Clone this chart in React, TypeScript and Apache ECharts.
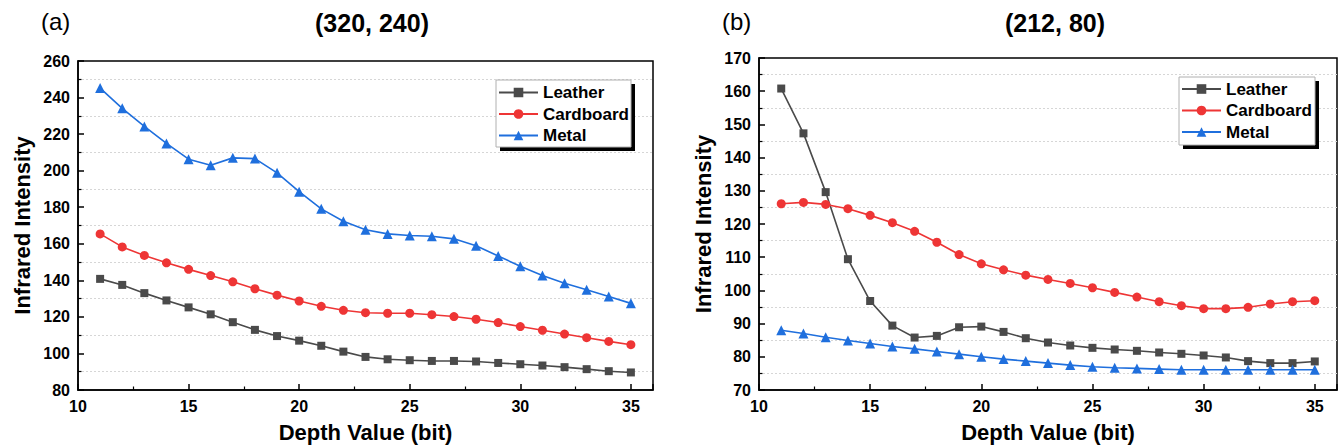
import React, { useEffect, useRef } from "react";
import * as echarts from "echarts";

const depth = [11, 12, 13, 14, 15, 16, 17, 18, 19, 20, 21, 22, 23, 24, 25, 26, 27, 28, 29, 30, 31, 32, 33, 34, 35];
const seriesNames = ["Leather", "Cardboard", "Metal"];

// (a) (320, 240)
const leatherA = [140.8, 137.5, 133, 129, 125.2, 121.4, 117.1, 112.9, 109.5, 107, 104.2, 101, 98.1, 96.8, 96.3, 95.9, 95.9, 95.6, 94.8, 94.1, 93.4, 92.5, 91.4, 90.3, 89.6];
const cardboardA = [165.4, 158.3, 153.6, 149.6, 146, 142.6, 139.2, 135.4, 131.9, 128.7, 125.8, 123.6, 122.3, 122, 122, 121.2, 120.2, 118.7, 116.9, 114.7, 112.7, 110.6, 108.6, 106.6, 104.8];
const metalA = [245.2, 234.1, 224.2, 214.9, 206.3, 203, 207, 206.6, 198.8, 188.5, 179.1, 172.3, 167.7, 165.4, 164.5, 164.1, 162.7, 158.9, 153.3, 147.7, 142.6, 138.4, 134.8, 131.2, 127.4];

// (b) (212, 80)
const leatherB = [160.8, 147.3, 129.6, 109.4, 96.8, 89.4, 85.8, 86.3, 88.9, 89.1, 87.5, 85.6, 84.3, 83.4, 82.7, 82.2, 81.8, 81.3, 80.9, 80.4, 79.8, 78.7, 78.1, 78.1, 78.6];
const cardboardB = [126.1, 126.5, 125.9, 124.6, 122.6, 120.4, 117.8, 114.5, 110.8, 108, 106.2, 104.6, 103.3, 102.1, 100.8, 99.4, 98, 96.6, 95.4, 94.5, 94.5, 94.9, 95.9, 96.6, 96.9];
const metalB = [88, 87, 85.9, 84.9, 84, 83.1, 82.4, 81.6, 80.8, 80, 79.3, 78.7, 78.1, 77.5, 77, 76.7, 76.5, 76.3, 76.1, 76.1, 76.1, 76.1, 76.1, 76.1, 76.1];

const panelLetters = ["(a)", "(b)"];
const panelTitles = ["(320, 240)", "(212, 80)"];
const xName = "Depth Value (bit)";
const yName = "Infrared Intensity";

const FONT = "'Liberation Sans', Arial, sans-serif";
const colors = ["#4a4a4a", "#ee3535", "#1f6fdd"];
const symbols = ["rect", "circle", "triangle"];
const symbolSizes = [8, 9, 10];

function pairs(vals: number[]) {
  return depth.map((d, i) => [d, vals[i]]);
}

export default function App() {
  const ref = useRef<HTMLDivElement>(null);
  useEffect(() => {
    if (!ref.current) return;
    const chart = echarts.init(ref.current, null, { renderer: "svg" });

    const grids = [
      { left: 78, top: 61, width: 575, height: 332 },
      { left: 759, top: 58, width: 578, height: 333 },
    ];
    const yRanges = [
      { min: 80, max: 260, interval: 20 },
      { min: 70, max: 170, interval: 10 },
    ];
    const dataSets = [
      [leatherA, cardboardA, metalA],
      [leatherB, cardboardB, metalB],
    ];

    const axisLine = { show: true, lineStyle: { color: "#000", width: 1.5 } };
    const tickLabel = { color: "#000", fontFamily: FONT, fontWeight: "bold" as const, fontSize: 16 };

    const xAxes = grids.map((_, i) => ({
      type: "value",
      gridIndex: i,
      min: 10,
      max: 36,
      interval: 5,
      name: xName,
      nameLocation: "middle",
      nameGap: 31,
      nameTextStyle: { color: "#000", fontFamily: FONT, fontWeight: "bold", fontSize: 22 },
      axisLine,
      axisTick: { show: true, inside: true, length: 6, lineStyle: { color: "#000", width: 1.5 } },
      minorTick: { show: true, splitNumber: 2, length: 3.5, lineStyle: { color: "#000", width: 1.2 } },
      axisLabel: { ...tickLabel, margin: 8, showMaxLabel: false, formatter: (v: number) => (v % 5 === 0 ? String(v) : "") },
      splitLine: { show: false },
      minorSplitLine: { show: false },
    }));

    const yAxes = grids.map((_, i) => ({
      type: "value",
      gridIndex: i,
      min: yRanges[i].min,
      max: yRanges[i].max,
      interval: yRanges[i].interval,
      name: yName,
      nameLocation: "middle",
      nameGap: 45,
      nameTextStyle: { color: "#000", fontFamily: FONT, fontWeight: "bold", fontSize: 22 },
      axisLine,
      axisTick: { show: true, inside: true, length: 6, lineStyle: { color: "#000", width: 1.5 } },
      minorTick: { show: true, splitNumber: 2, length: 3.5, lineStyle: { color: "#000", width: 1.2 } },
      axisLabel: { ...tickLabel, margin: 8 },
      splitLine: { show: false },
      minorSplitLine: { show: true, lineStyle: { color: "#d6d6d6", width: 1, type: [2, 2] } },
    }));

    const series: any[] = [];
    dataSets.forEach((set, gi) => {
      set.forEach((vals, si) => {
        series.push({
          type: "line",
          name: seriesNames[si],
          xAxisIndex: gi,
          yAxisIndex: gi,
          data: pairs(vals),
          symbol: symbols[si],
          symbolSize: symbolSizes[si],
          showAllSymbol: true,
          color: colors[si],
          lineStyle: { color: colors[si], width: 1.6 },
          itemStyle: { color: colors[si] },
          z: 3 + si,
        });
      });
    });

    const legendBoxes = [
      { x: 496, y: 80, w: 135, h: 67, left: 498, top: 84 },
      { x: 1179, y: 77, w: 136, h: 68, left: 1181, top: 80.5 },
    ];

    const legends = legendBoxes.map((b) => ({
      orient: "vertical",
      left: b.left,
      top: b.top,
      itemWidth: 39,
      itemHeight: 12,
      itemGap: 4.5,
      data: seriesNames,
      textStyle: { color: "#000", fontFamily: FONT, fontWeight: "bold", fontSize: 17, lineHeight: 17 },
      padding: 0,
      z: 10,
    }));

    const graphic: any[] = [];
    legendBoxes.forEach((b) => {
      graphic.push({
        type: "rect",
        shape: { x: b.x + 4, y: b.y + 4, width: b.w, height: b.h },
        style: { fill: "#000" },
        z: 8,
      });
      graphic.push({
        type: "rect",
        shape: { x: b.x, y: b.y, width: b.w, height: b.h },
        style: { fill: "#fff", stroke: "#b0b0b0", lineWidth: 1 },
        z: 9,
      });
    });
    const letterPos = [
      { x: 41, y: 21 },
      { x: 722, y: 21 },
    ];
    const titlePos = [
      { x: 372, y: 23 },
      { x: 1055, y: 23 },
    ];
    panelLetters.forEach((t, i) => {
      graphic.push({
        type: "text",
        x: letterPos[i].x,
        y: letterPos[i].y,
        style: { text: t, fill: "#000", font: `normal 24px ${FONT}`, textAlign: "left", textVerticalAlign: "middle" },
        z: 10,
      });
    });
    panelTitles.forEach((t, i) => {
      graphic.push({
        type: "text",
        x: titlePos[i].x,
        y: titlePos[i].y,
        style: { text: t, fill: "#000", font: `bold 25px ${FONT}`, textAlign: "center", textVerticalAlign: "middle" },
        z: 10,
      });
    });

    chart.setOption({
      animation: false,
      backgroundColor: "#fff",
      grid: grids.map((g) => ({ ...g, show: true, borderColor: "#000", borderWidth: 1.5, backgroundColor: "transparent" })),
      xAxis: xAxes,
      yAxis: yAxes,
      legend: legends,
      series,
      graphic,
    } as any);

    return () => chart.dispose();
  }, []);

  return (
    <div
      ref={ref}
      style={{ position: "fixed", left: 0, top: 0, width: 1343, height: 448, background: "#fff" }}
    />
  );
}
